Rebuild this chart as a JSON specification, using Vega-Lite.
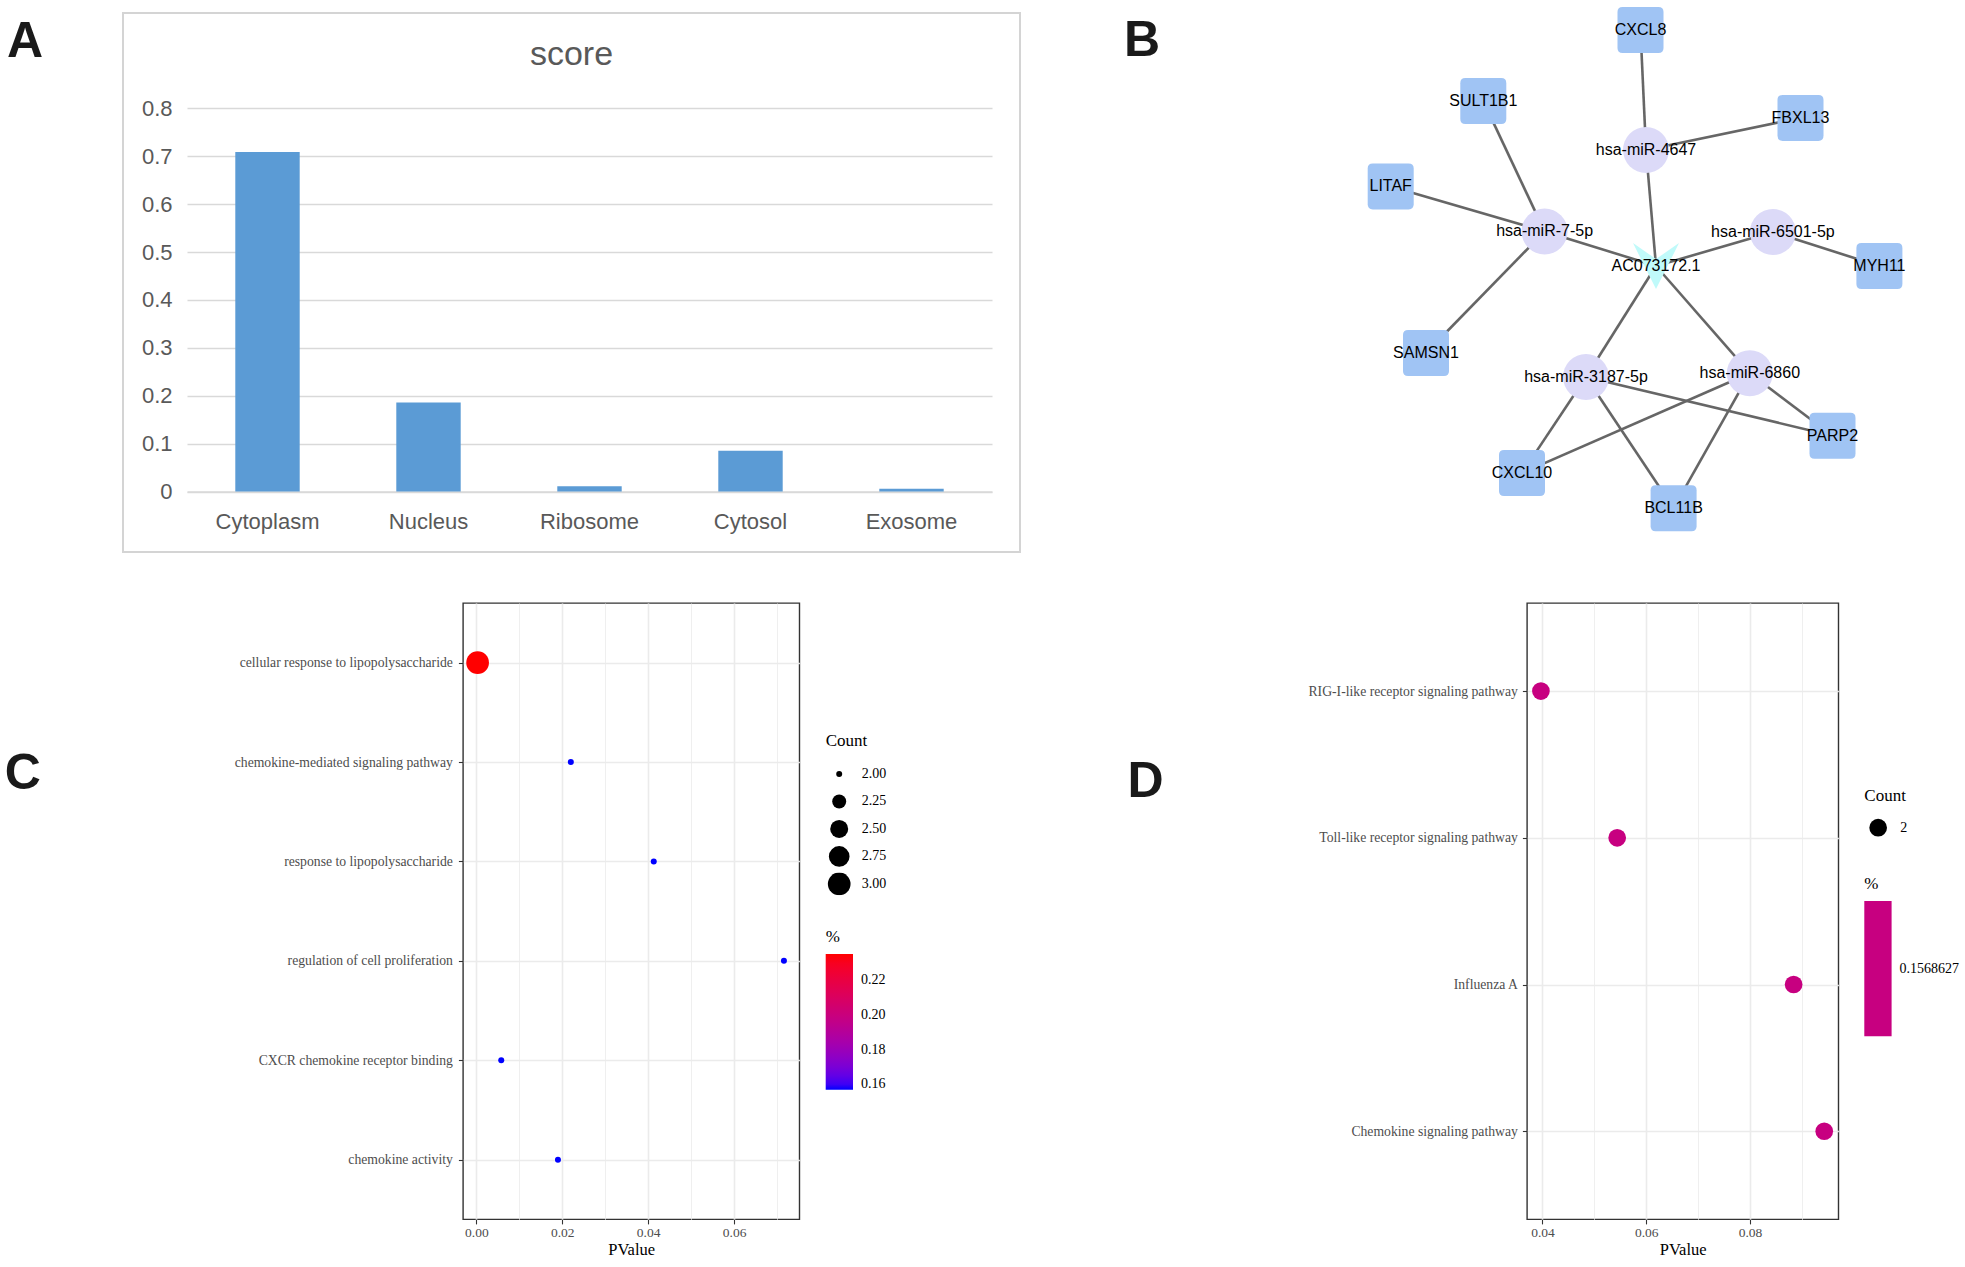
{
  "$schema": "https://vega.github.io/schema/vega-lite/v6.json",
  "background": "white",
  "padding": {"left": 0, "top": 7, "right": 0, "bottom": 0},
  "spacing": 49,
  "resolve": {"scale": {"color": "independent", "size": "independent", "shape": "independent"}, "legend": {"color": "independent", "size": "independent", "shape": "independent"}},
  "config": {
    "view": {"stroke": null},
    "font": "Liberation Sans",
    "legend": {
      "titleFont": "Liberation Serif", "titleFontSize": 17, "titleFontWeight": "normal", "titleColor": "black",
      "labelFont": "Liberation Serif", "labelFontSize": 14, "labelColor": "black"
    }
  },
  "datasets": {
    "nodes": [
      {"id": "CXCL8", "type": "gene", "x": 1640.5, "y": 30},
      {"id": "SULT1B1", "type": "gene", "x": 1483.3, "y": 101.1},
      {"id": "FBXL13", "type": "gene", "x": 1800.5, "y": 117.9},
      {"id": "LITAF", "type": "gene", "x": 1390.7, "y": 186.4},
      {"id": "hsa-miR-4647", "type": "miRNA", "x": 1646, "y": 150},
      {"id": "hsa-miR-7-5p", "type": "miRNA", "x": 1544.6, "y": 231.4},
      {"id": "hsa-miR-6501-5p", "type": "miRNA", "x": 1772.9, "y": 232.1},
      {"id": "AC073172.1", "type": "lncRNA", "x": 1656, "y": 266},
      {"id": "MYH11", "type": "gene", "x": 1879.4, "y": 266},
      {"id": "SAMSN1", "type": "gene", "x": 1426, "y": 353},
      {"id": "hsa-miR-3187-5p", "type": "miRNA", "x": 1586, "y": 377},
      {"id": "hsa-miR-6860", "type": "miRNA", "x": 1749.8, "y": 373.2},
      {"id": "PARP2", "type": "gene", "x": 1832.5, "y": 435.7},
      {"id": "CXCL10", "type": "gene", "x": 1522, "y": 473},
      {"id": "BCL11B", "type": "gene", "x": 1673.6, "y": 508.2}
    ],
    "edges": [
      {"source": "CXCL8", "target": "hsa-miR-4647"},
      {"source": "FBXL13", "target": "hsa-miR-4647"},
      {"source": "hsa-miR-4647", "target": "AC073172.1"},
      {"source": "SULT1B1", "target": "hsa-miR-7-5p"},
      {"source": "LITAF", "target": "hsa-miR-7-5p"},
      {"source": "SAMSN1", "target": "hsa-miR-7-5p"},
      {"source": "hsa-miR-7-5p", "target": "AC073172.1"},
      {"source": "hsa-miR-6501-5p", "target": "AC073172.1"},
      {"source": "hsa-miR-6501-5p", "target": "MYH11"},
      {"source": "AC073172.1", "target": "hsa-miR-3187-5p"},
      {"source": "AC073172.1", "target": "hsa-miR-6860"},
      {"source": "hsa-miR-3187-5p", "target": "CXCL10"},
      {"source": "hsa-miR-3187-5p", "target": "BCL11B"},
      {"source": "hsa-miR-3187-5p", "target": "PARP2"},
      {"source": "hsa-miR-6860", "target": "CXCL10"},
      {"source": "hsa-miR-6860", "target": "BCL11B"},
      {"source": "hsa-miR-6860", "target": "PARP2"}
    ]
  },
  "vconcat": [
    {
      "bounds": "flush",
      "spacing": 20,
      "resolve": {"scale": {"color": "independent", "size": "independent", "shape": "independent"}, "legend": {"color": "independent", "size": "independent", "shape": "independent"}},
      "hconcat": [
        {
          "width": 103, "height": 539,
          "data": {"values": [{"panel": "A"}]},
          "mark": {"type": "text", "align": "left", "baseline": "alphabetic", "dx": -44.5, "dy": -225.5, "font": "Liberation Sans", "fontSize": 50, "fontWeight": "bold", "color": "#1a1a1a"},
          "encoding": {"text": {"field": "panel", "type": "nominal"}}
        },
        {
          "width": 897, "height": 539,
          "view": {"stroke": "#D4D4D4", "strokeWidth": 2},
          "layer": [
            {
              "data": {"values": [
                {"location": "Cytoplasm", "score": 0.709},
                {"location": "Nucleus", "score": 0.186},
                {"location": "Ribosome", "score": 0.011},
                {"location": "Cytosol", "score": 0.085},
                {"location": "Exosome", "score": 0.006}
              ]},
              "mark": {"type": "bar", "color": "#5B9BD5"},
              "encoding": {
                "x": {"field": "location", "type": "nominal", "sort": null,
                  "scale": {"range": [64, 869], "paddingInner": 0.6, "paddingOuter": 0.3},
                  "axis": {"title": null, "orient": "bottom", "offset": -60.5, "domain": true, "domainColor": "#D9D9D9", "domainWidth": 1.5, "ticks": false, "tickSize": 0, "labelAngle": 0, "labelFont": "Liberation Sans", "labelFontSize": 22, "labelColor": "#595959", "labelPadding": 19.5, "grid": false}},
                "y": {"field": "score", "type": "quantitative",
                  "scale": {"domain": [0, 0.8], "range": [478.5, 95.3], "nice": false},
                  "axis": {"title": null, "orient": "left", "offset": -49, "domain": false, "ticks": false, "tickSize": 0, "labelPadding": 0, "values": [0, 0.1, 0.2, 0.3, 0.4, 0.5, 0.6, 0.7, 0.8], "format": ".1~f", "labelFont": "Liberation Sans", "labelFontSize": 22, "labelColor": "#595959", "grid": true, "gridColor": "#D9D9D9", "gridWidth": 1.5}}
              }
            },
            {
              "data": {"values": [{"t": "score"}]},
              "mark": {"type": "text", "font": "Liberation Sans", "fontSize": 34, "color": "#595959", "baseline": "alphabetic", "dy": -217.5},
              "encoding": {"text": {"field": "t", "type": "nominal"}}
            }
          ]
        },
        {
          "width": 40, "height": 539,
          "data": {"values": [{"panel": "B"}]},
          "mark": {"type": "text", "align": "left", "baseline": "alphabetic", "dx": 64, "dy": -226.5, "font": "Liberation Sans", "fontSize": 50, "fontWeight": "bold", "color": "#1a1a1a"},
          "encoding": {"text": {"field": "panel", "type": "nominal"}}
        },
        {
          "width": 840, "height": 539,
          "layer": [
            {
              "data": {"name": "edges"},
              "transform": [
                {"lookup": "source", "from": {"data": {"name": "nodes"}, "key": "id", "fields": ["x", "y"]}, "as": ["sx", "sy"]},
                {"lookup": "target", "from": {"data": {"name": "nodes"}, "key": "id", "fields": ["x", "y"]}, "as": ["tx", "ty"]}
              ],
              "mark": {"type": "rule", "color": "#666666", "strokeWidth": 2.6},
              "encoding": {
                "x": {"field": "sx", "type": "quantitative", "scale": {"domain": [1100, 1940], "nice": false, "zero": false}, "axis": null},
                "y": {"field": "sy", "type": "quantitative", "scale": {"domain": [13, 552], "reverse": true, "nice": false, "zero": false}, "axis": null},
                "x2": {"field": "tx"},
                "y2": {"field": "ty"}
              }
            },
            {
              "data": {"name": "nodes"},
              "mark": {"type": "point", "filled": true, "opacity": 1, "size": 2116, "strokeWidth": 0},
              "encoding": {
                "x": {"field": "x", "type": "quantitative", "axis": null},
                "y": {"field": "y", "type": "quantitative", "axis": null},
                "shape": {"field": "type", "type": "nominal", "legend": null,
                  "scale": {"domain": ["gene", "miRNA", "lncRNA"], "range": ["M-0.78,-1L0.78,-1Q1,-1,1,-0.78L1,0.78Q1,1,0.78,1L-0.78,1Q-1,1,-1,0.78L-1,-0.78Q-1,-1,-0.78,-1Z", "circle", "M-1,-1L0,-0.3L1,-1L0,1Z"]}},
                "color": {"field": "type", "type": "nominal", "legend": null,
                  "scale": {"domain": ["gene", "miRNA", "lncRNA"], "range": ["#A0C4F4", "#DCDAF8", "#C0FAFA"]}}
              }
            },
            {
              "data": {"name": "nodes"},
              "mark": {"type": "text", "font": "Liberation Sans", "fontSize": 16, "color": "#000000"},
              "encoding": {
                "x": {"field": "x", "type": "quantitative", "axis": null},
                "y": {"field": "y", "type": "quantitative", "axis": null},
                "text": {"field": "id", "type": "nominal"}
              }
            }
          ]
        }
      ]
    },
    {
      "bounds": "flush",
      "spacing": 20,
      "resolve": {"scale": {"color": "independent", "size": "independent", "shape": "independent"}, "legend": {"color": "independent", "size": "independent", "shape": "independent"}},
      "hconcat": [
        {
          "width": 442.3, "height": 616.3,
          "data": {"values": [{"panel": "C"}]},
          "mark": {"type": "text", "align": "left", "baseline": "alphabetic", "dx": -216.35, "dy": -122.15, "font": "Liberation Sans", "fontSize": 50, "fontWeight": "bold", "color": "#1a1a1a"},
          "encoding": {"text": {"field": "panel", "type": "nominal"}}
        },
        {
          "width": 336.4, "height": 616.3,
          "view": {"stroke": "#333333", "strokeWidth": 1.4},
          "data": {"values": [
            {"Term": "cellular response to lipopolysaccharide", "PValue": 0.0003, "Count": 3, "Percent": 0.2352941},
            {"Term": "chemokine-mediated signaling pathway", "PValue": 0.022, "Count": 2, "Percent": 0.1568627},
            {"Term": "response to lipopolysaccharide", "PValue": 0.0413, "Count": 2, "Percent": 0.1568627},
            {"Term": "regulation of cell proliferation", "PValue": 0.0716, "Count": 2, "Percent": 0.1568627},
            {"Term": "CXCR chemokine receptor binding", "PValue": 0.0058, "Count": 2, "Percent": 0.1568627},
            {"Term": "chemokine activity", "PValue": 0.019, "Count": 2, "Percent": 0.1568627}
          ]},
          "mark": {"type": "circle", "opacity": 1},
          "encoding": {
            "x": {"field": "PValue", "type": "quantitative",
              "scale": {"domain": [-0.0031, 0.0752], "nice": false, "zero": false},
              "axis": {"title": "PValue", "titleFont": "Liberation Serif", "titleFontSize": 16.5, "titleFontWeight": "normal", "titleColor": "black", "titlePadding": 2,
                "values": [0, 0.01, 0.02, 0.03, 0.04, 0.05, 0.06, 0.07],
                "labelExpr": "round(datum.value*100) % 2 == 0 ? format(datum.value, '.2f') : ''",
                "domain": false, "tickSize": 4.6, "tickColor": "#333333", "tickWidth": 1.1,
                "tickOpacity": {"condition": {"test": "round(datum.value*100) % 2 == 0", "value": 1}, "value": 0},
                "grid": true, "gridColor": "#EBEBEB",
                "gridWidth": {"condition": {"test": "round(datum.value*100) % 2 == 0", "value": 1.6}, "value": 0.8},
                "labelFont": "Liberation Serif", "labelFontSize": 13.5, "labelColor": "#4D4D4D", "labelPadding": 2, "labelFlush": false}},
            "y": {"field": "Term", "type": "nominal", "sort": null,
              "scale": {"type": "point", "padding": 0.6},
              "axis": {"title": null, "domain": false, "tickSize": 4.6, "tickColor": "#333333", "tickWidth": 1.1, "labelPadding": 6, "grid": true, "gridColor": "#EBEBEB", "gridWidth": 1.6, "labelFont": "Liberation Serif", "labelFontSize": 13.7, "labelColor": "#4D4D4D", "labelLimit": 400}},
            "size": {"field": "Count", "type": "quantitative",
              "scale": {"type": "pow", "exponent": -1, "domain": [2, 3], "range": [36, 515], "zero": false},
              "legend": {"title": "Count", "orient": "none", "legendX": 362.7, "legendY": 130, "values": [2, 2.25, 2.5, 2.75, 3], "format": ".2f", "symbolType": "circle", "symbolFillColor": "black", "symbolStrokeWidth": 0, "symbolOffset": 2, "labelOffset": 11, "clipHeight": 22.7, "rowPadding": 4.5, "titlePadding": 12.6}},
            "color": {"field": "Percent", "type": "quantitative",
              "scale": {"domain": [0.1568627, 0.2352941], "range": ["#0000FF", "#FF0000"], "interpolate": "lab"},
              "legend": {"title": "%", "type": "gradient", "orient": "none", "legendX": 362.7, "legendY": 326, "direction": "vertical", "values": [0.16, 0.18, 0.2, 0.22], "format": ".2f", "gradientLength": 135.7, "gradientThickness": 27.3, "gradientStrokeWidth": 0, "labelOffset": 8, "titlePadding": 8}}
          }
        },
        {
          "width": 686.3, "height": 616.3,
          "data": {"values": [{"panel": "D"}]},
          "mark": {"type": "text", "align": "left", "baseline": "alphabetic", "dx": -35.55, "dy": -113.85, "font": "Liberation Sans", "fontSize": 50, "fontWeight": "bold", "color": "#1a1a1a"},
          "encoding": {"text": {"field": "panel", "type": "nominal"}}
        },
        {
          "width": 311.4, "height": 616.3,
          "view": {"stroke": "#333333", "strokeWidth": 1.4},
          "data": {"values": [
            {"Term": "RIG-I-like receptor signaling pathway", "PValue": 0.0397, "Count": 2, "Percent": 0.1568627},
            {"Term": "Toll-like receptor signaling pathway", "PValue": 0.0544, "Count": 2, "Percent": 0.1568627},
            {"Term": "Influenza A", "PValue": 0.0884, "Count": 2, "Percent": 0.1568627},
            {"Term": "Chemokine signaling pathway", "PValue": 0.0943, "Count": 2, "Percent": 0.1568627}
          ]},
          "mark": {"type": "circle", "opacity": 1},
          "encoding": {
            "x": {"field": "PValue", "type": "quantitative",
              "scale": {"domain": [0.03702, 0.09703], "nice": false, "zero": false},
              "axis": {"title": "PValue", "titleFont": "Liberation Serif", "titleFontSize": 16.5, "titleFontWeight": "normal", "titleColor": "black", "titlePadding": 2,
                "values": [0.04, 0.05, 0.06, 0.07, 0.08, 0.09],
                "labelExpr": "round(datum.value*100) % 2 == 0 ? format(datum.value, '.2f') : ''",
                "domain": false, "tickSize": 4.6, "tickColor": "#333333", "tickWidth": 1.1,
                "tickOpacity": {"condition": {"test": "round(datum.value*100) % 2 == 0", "value": 1}, "value": 0},
                "grid": true, "gridColor": "#EBEBEB",
                "gridWidth": {"condition": {"test": "round(datum.value*100) % 2 == 0", "value": 1.6}, "value": 0.8},
                "labelFont": "Liberation Serif", "labelFontSize": 13.5, "labelColor": "#4D4D4D", "labelPadding": 2, "labelFlush": false}},
            "y": {"field": "Term", "type": "nominal", "sort": null,
              "scale": {"type": "point", "padding": 0.6},
              "axis": {"title": null, "domain": false, "tickSize": 4.6, "tickColor": "#333333", "tickWidth": 1.1, "labelPadding": 5, "grid": true, "gridColor": "#EBEBEB", "gridWidth": 1.6, "labelFont": "Liberation Serif", "labelFontSize": 13.7, "labelColor": "#4D4D4D", "labelLimit": 400}},
            "size": {"field": "Count", "type": "quantitative",
              "scale": {"domain": [1, 3], "range": [313, 313], "zero": false},
              "legend": {"title": "Count", "orient": "none", "legendX": 337.3, "legendY": 185, "values": [2], "format": "d", "symbolType": "circle", "symbolFillColor": "black", "symbolStrokeWidth": 0, "symbolOffset": 4.85, "labelOffset": 13, "titlePadding": 13.7}},
            "color": {"field": "Percent", "type": "quantitative",
              "scale": {"domain": [0.1537254, 0.16], "range": ["#C70080", "#C70080"]},
              "legend": {"title": "%", "type": "gradient", "orient": "none", "legendX": 337.3, "legendY": 273, "direction": "vertical", "values": [0.1568627], "format": ".7f", "gradientLength": 135.3, "gradientThickness": 27.3, "gradientStrokeWidth": 0, "labelOffset": 8, "titlePadding": 8}}
          }
        }
      ]
    }
  ]
}
